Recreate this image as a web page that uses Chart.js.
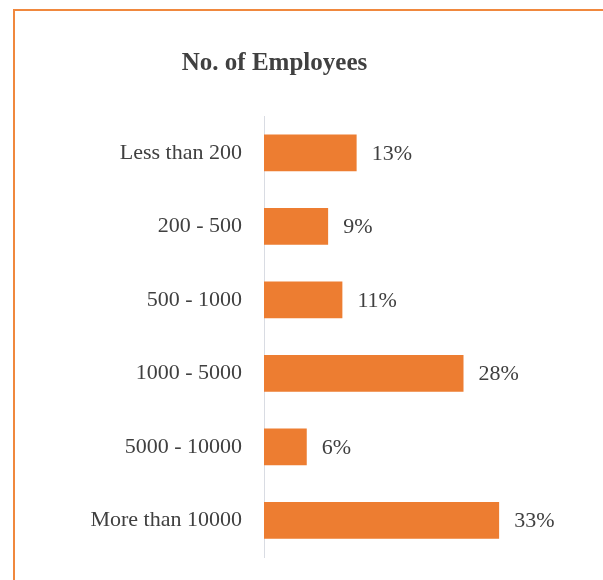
<!DOCTYPE html>
<html>
<head>
<meta charset="utf-8">
<script src="https://cdn.jsdelivr.net/npm/chart.js@4"></script>
<style>
  html, body { margin: 0; padding: 0; background: #fff; overflow: hidden; }
  #wrap { position: relative; width: 603px; height: 580px; }
  #frame {
    position: absolute; left: 13px; top: 9px; width: 700px; height: 700px;
    border-left: 2px solid #f0883e; border-top: 2px solid #f0883e;
  }
  canvas { position: absolute; left: 0; top: 0; }
</style>
</head>
<body>
<div id="wrap">
  <div id="frame"></div>
  <canvas id="chart" width="603" height="580"></canvas>
</div>
<script>
// --- Datos ---
const categorias = ["Less than 200", "200 - 500", "500 - 1000", "1000 - 5000", "5000 - 10000", "More than 10000"];
const porcentajes = [13, 9, 11, 28, 6, 33];

const barColor = "#ed7d31";
const textColor = "#404040";
const fontFamily = "'Liberation Serif', 'Times New Roman', serif";

// Etiquetas de valor al final de cada barra
const etiquetasPlugin = {
  id: "etiquetas",
  afterDatasetsDraw(chart) {
    const ctx = chart.ctx;
    const meta = chart.getDatasetMeta(0);
    ctx.save();
    ctx.font = "22px " + fontFamily;
    ctx.fillStyle = textColor;
    ctx.textAlign = "left";
    ctx.textBaseline = "middle";
    meta.data.forEach((bar, i) => {
      ctx.fillText(porcentajes[i] + "%", bar.x + 15, bar.y + 1);
    });
    ctx.restore();
  },
};

new Chart(document.getElementById("chart"), {
  type: "bar",
  data: {
    labels: categorias,
    datasets: [
      {
        data: porcentajes,
        backgroundColor: barColor,
        barPercentage: 0.5,
        categoryPercentage: 1,
      },
    ],
  },
  options: {
    indexAxis: "y",
    responsive: false,
    animation: false,
    layout: { padding: { left: 0, right: 54, top: 0, bottom: 23 } },
    plugins: {
      legend: { display: false },
      tooltip: { enabled: false },
      title: {
        display: true,
        text: "No. of Employees",
        color: textColor,
        font: { family: fontFamily, size: 25, weight: "bold" },
        padding: { top: 49, bottom: 37 },
      },
    },
    scales: {
      x: { display: false, min: 0, max: 40 },
      y: {
        grid: { display: false, drawTicks: false },
        border: { display: true, color: "#d9dce3", width: 1 },
        ticks: {
          color: textColor,
          padding: 22,
          font: { family: fontFamily, size: 22 },
        },
        afterFit: (s) => {
          s.width = 264;
          s.paddingTop = 0;
          s.paddingBottom = 0;
        },
      },
    },
  },
  plugins: [etiquetasPlugin],
});
</script>
</body>
</html>
